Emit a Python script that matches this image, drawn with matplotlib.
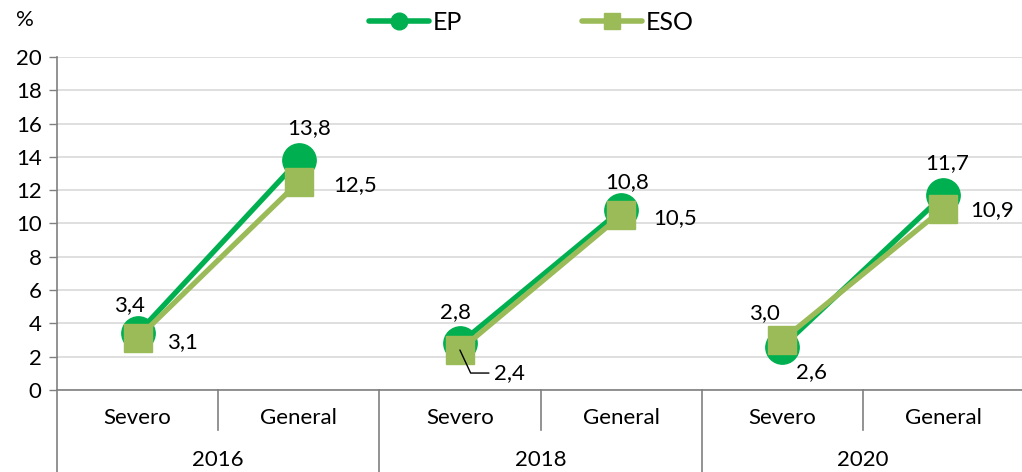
import matplotlib
matplotlib.use("Agg")
import matplotlib.pyplot as plt
from matplotlib.lines import Line2D

plt.rcParams['font.family'] = ['Lato', 'DejaVu Sans']

years = ["2016", "2018", "2020"]
levels = ["Severo", "General"]
ep = [3.4, 13.8, 2.8, 10.8, 2.6, 11.7]
eso = [3.1, 12.5, 2.4, 10.5, 3.0, 10.9]
yticks = [0, 2, 4, 6, 8, 10, 12, 14, 16, 18, 20]

ep_color = "#00B050"
eso_color = "#9BBB59"

# label offsets (pixels) relative to the data point
ep_off = [(-8, 28), (10, 32), (-4, 31), (6, 28), (29, -25), (4, 32)]
eso_off = [(45, -4), (56, -3), (50, -23), (54, -3), (-18, 27), (49, -2)]

fig = plt.figure(figsize=(10.22, 4.72), dpi=100)
ax = fig.add_axes([57/1022, 82/472, 967/1022, 333/472])

for g in range(3):
    xs = [2*g, 2*g+1]
    ax.plot(xs, ep[2*g:2*g+2], color=ep_color, lw=3.8, marker='o', ms=24,
            solid_capstyle='round', zorder=3)
for g in range(3):
    xs = [2*g, 2*g+1]
    ax.plot(xs, eso[2*g:2*g+2], color=eso_color, lw=3.8, marker='s', ms=20,
            zorder=4)

fs = 16
for i, (v, off) in enumerate(zip(ep, ep_off)):
    ax.annotate(f"{v:.1f}".replace('.', ','), (i, v), xytext=off,
                textcoords='offset pixels', ha='center', va='center',
                fontsize=fs, zorder=6)
for i, (v, off) in enumerate(zip(eso, eso_off)):
    kw = {}
    if i == 2:
        kw = dict(arrowprops=dict(arrowstyle='-', color='black', lw=1.0,
                                  shrinkA=2, shrinkB=0,
                                  connectionstyle='angle,angleA=0,angleB=-65,rad=0',
                                  relpos=(0, 0.5)))
    ax.annotate(f"{v:.1f}".replace('.', ','), (i, v), xytext=off,
                textcoords='offset pixels', ha='center', va='center',
                fontsize=fs, zorder=6, **kw)

ax.set_xlim(-0.5, 5.5)
ax.set_ylim(0, 20)
ax.set_yticks(yticks)
ax.set_yticklabels([str(t) for t in yticks], fontsize=fs)
ax.yaxis.grid(True, color='#D9D9D9', lw=1.2)
ax.set_axisbelow(True)
ax.tick_params(axis='y', length=6, color='#808080', pad=5, width=1)
ax.set_xticks([])
for s in ['top', 'right']:
    ax.spines[s].set_visible(False)
for s in ['left', 'bottom']:
    ax.spines[s].set_color('#808080')
    ax.spines[s].set_linewidth(1.2)

trans = ax.get_xaxis_transform()
for i in range(6):
    ax.text(i, -0.084, levels[i % 2], transform=trans, ha='center', va='center',
            fontsize=fs)
for g, yr in enumerate(years):
    ax.text(2*g+0.5, -0.21, yr, transform=trans, ha='center', va='center',
            fontsize=fs)
for x in [0.5, 2.5, 4.5]:
    ax.plot([x, x], [0, -0.12], transform=trans, color='#808080', lw=1.2,
            clip_on=False)
for x in [-0.5, 1.5, 3.5, 5.5]:
    ax.plot([x, x], [0, -0.3], transform=trans, color='#808080', lw=1.2,
            clip_on=False)

fig.text(16/1022, 1-20/472, "%", fontsize=fs, ha='left', va='center')

handles = [
    Line2D([], [], color=ep_color, lw=4, marker='o', ms=12, solid_capstyle='round'),
    Line2D([], [], color=eso_color, lw=4, marker='s', ms=11, solid_capstyle='round'),
]
fig.legend(handles, ["EP", "ESO"], loc='center', bbox_to_anchor=(0.52, 1-22/472),
           ncol=2, frameon=False, fontsize=18, handlelength=2.4,
           columnspacing=4.8, handletextpad=0.15)

fig.savefig("out.png", dpi=100)
